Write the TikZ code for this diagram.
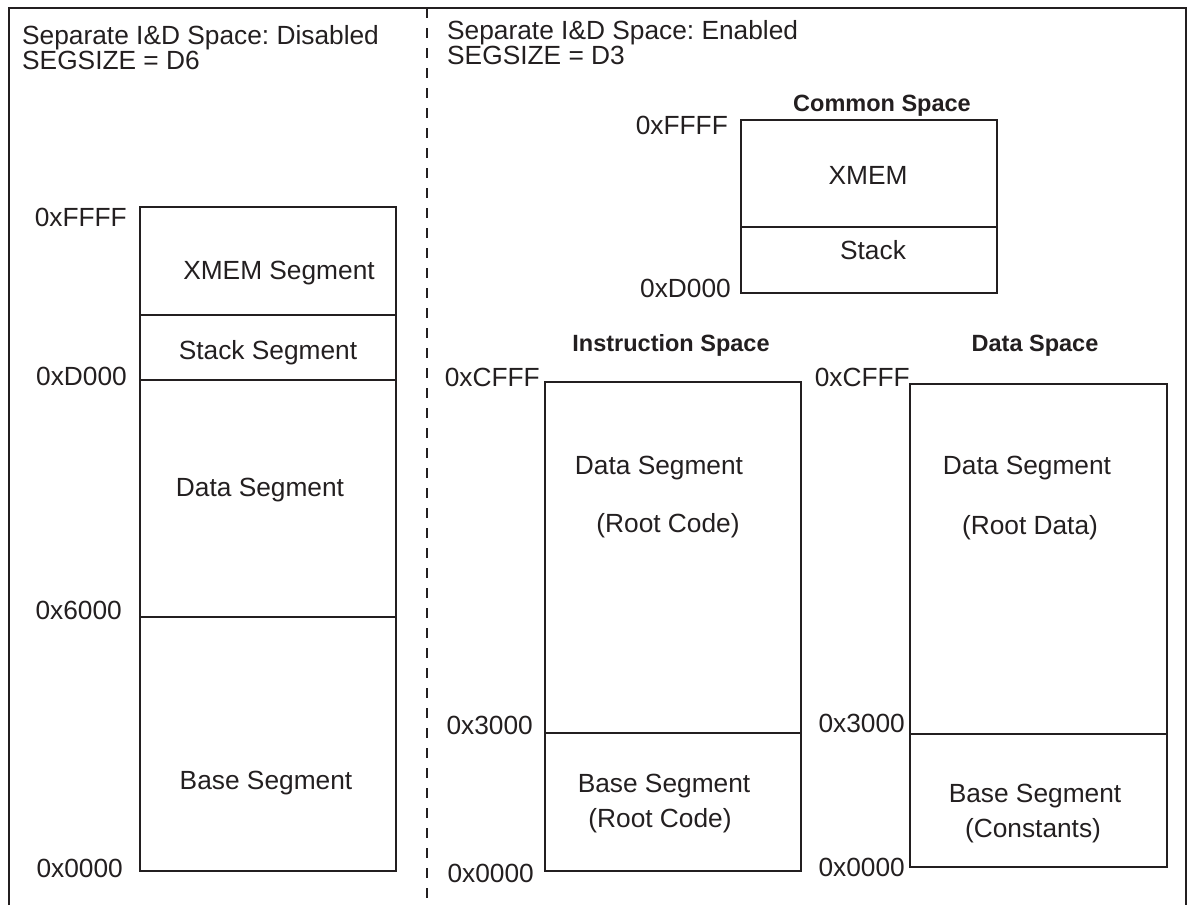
\documentclass[tikz,border=0pt]{standalone}
\usepackage{fontspec}
\setmainfont{Liberation Sans}
\definecolor{ink}{HTML}{231F20}
\frenchspacing
\begin{document}
\begin{tikzpicture}[x=1pt,y=-1pt,
  lbl/.style={inner sep=0pt, text=ink, text height=18pt, text depth=0pt, font=\fontsize{26.3}{25}\selectfont},
  ttl/.style={inner sep=0pt, text=ink, text height=17pt, text depth=0pt, font=\fontsize{23.5}{24}\selectfont\bfseries},
  hdr/.style={inner sep=0pt, text=ink, anchor=base west, font=\fontsize{26.3}{25}\selectfont},
  segbox/.style={draw=ink, line width=2pt},
  frame/.style={draw=ink, line width=2.6pt},
  divider/.style={draw=ink, line width=2.2pt, dash pattern=on 10pt off 10pt}]
\useasboundingbox (0,0) rectangle (1188,905);

% outer frame (open at the bottom) and divider
\coordinate (fbl) at (9,905);
\coordinate (ftl) at (9,8);
\coordinate (ftr) at (1186,8);
\coordinate (fbr) at (1186,905);
\draw[frame] (fbl) -- (ftl) -- (ftr) -- (fbr);
\coordinate (dtop) at (427,8);
\coordinate (dbot) at (427,905);
\draw[divider] (dtop) -- (dbot);

% headers
\node[hdr] (h1a) at (22,44) {Separate I\&D Space: Disabled};
\node[hdr] (h1b) at (22,69) {SEGSIZE = D6};
\node[hdr] (h2a) at (447,39) {Separate I\&D Space: Enabled};
\node[hdr] (h2b) at (447,64) {SEGSIZE = D3};

% ---------- left memory map ----------
\draw[segbox] (140,207) rectangle (396,871);
\draw[segbox] (140,315) -- (396,315);
\draw[segbox] (140,380) -- (396,380);
\draw[segbox] (140,617) -- (396,617);
\node[lbl, anchor=east] (lffff) at (127,217) {0xFFFF};
\node[lbl, anchor=east] (ld000) at (127,376) {0xD000};
\node[lbl, anchor=east] (l6000) at (122,610) {0x6000};
\node[lbl, anchor=east] (l0000) at (123,868) {0x0000};
\node[lbl] (lxmem) at (279,270) {XMEM Segment};
\node[lbl] (lstack) at (268,350) {Stack Segment};
\node[lbl] (ldata) at (260,487) {Data Segment};
\node[lbl] (lbase) at (266,780) {Base Segment};

% ---------- common space ----------
\node[ttl] (ctitle) at (882,103) {Common Space};
\draw[segbox] (741,120) rectangle (997,293);
\draw[segbox] (741,227) -- (997,227);
\node[lbl, anchor=east] (cffff) at (728,125) {0xFFFF};
\node[lbl, anchor=east] (cd000) at (731,288) {0xD000};
\node[lbl] (cxmem) at (868,175) {XMEM};
\node[lbl] (cstack) at (873,250) {Stack};

% ---------- instruction space ----------
\node[ttl] (ititle) at (671,343) {Instruction Space};
\draw[segbox] (545,382) rectangle (801,871);
\draw[segbox] (545,733) -- (801,733);
\node[lbl, anchor=east] (icfff) at (540,377) {0xCFFF};
\node[lbl, anchor=east] (i3000) at (533,725) {0x3000};
\node[lbl, anchor=east] (i0000) at (534,873) {0x0000};
\node[lbl] (idata) at (659,465) {Data Segment};
\node[lbl] (idatar) at (668,523) {(Root Code)};
\node[lbl] (ibase) at (664,783) {Base Segment};
\node[lbl] (ibaser) at (660,818) {(Root Code)};

% ---------- data space ----------
\node[ttl] (dtitle) at (1035,343) {Data Space};
\draw[segbox] (910,384) rectangle (1167,867);
\draw[segbox] (910,734) -- (1168,734);
\node[lbl, anchor=east] (dcfff) at (910,377) {0xCFFF};
\node[lbl, anchor=east] (d3000) at (905,723) {0x3000};
\node[lbl, anchor=east] (d0000) at (905,867) {0x0000};
\node[lbl] (ddata) at (1027,465) {Data Segment};
\node[lbl] (ddatar) at (1030,525) {(Root Data)};
\node[lbl] (dbase) at (1035,793) {Base Segment};
\node[lbl] (dbaser) at (1033,828) {(Constants)};
\end{tikzpicture}
\end{document}
